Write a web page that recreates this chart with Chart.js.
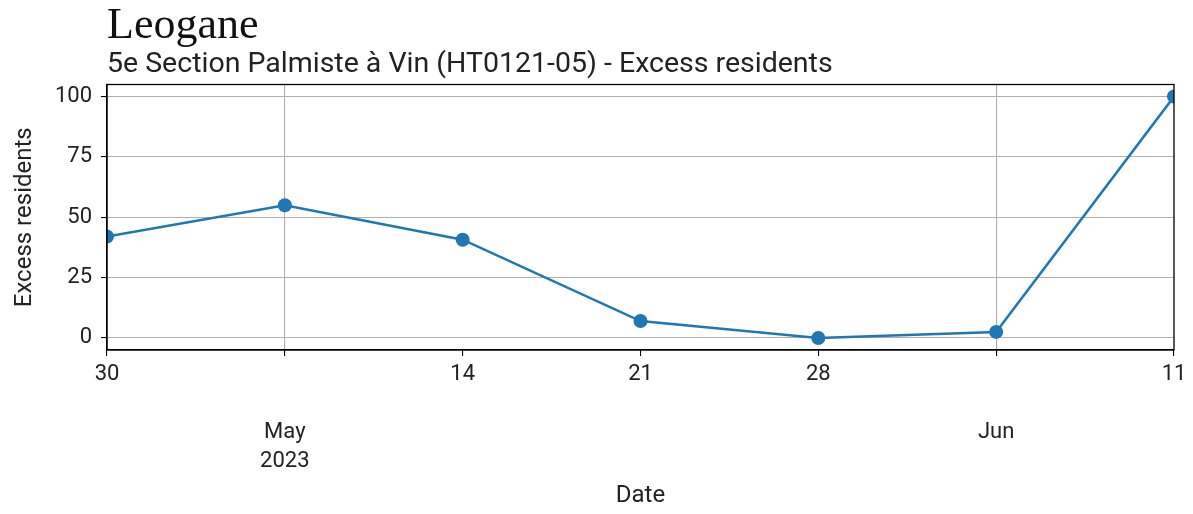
<!DOCTYPE html>
<html>
<head>
<meta charset="utf-8">
<script src="https://cdn.jsdelivr.net/npm/chart.js@4/dist/chart.umd.min.js"></script>
<style>
  html, body { margin: 0; padding: 0; background: #fff; }
  #wrap { width: 1193px; height: 514px; }
</style>
</head>
<body>
<div id="wrap"><canvas id="lineCanvas" width="1193" height="514"></canvas></div>
<script>
// dates, one per week
const dates = ["2023-04-30", "2023-05-07", "2023-05-14", "2023-05-21", "2023-05-28", "2023-06-04", "2023-06-11"];
const excessResidents = [42, 55, 40.7, 7, 0, 2.5, 100];
// tick labels under each date (blank lines push the month labels down)
const xTickLabels = [["30"], ["", "", "May", "2023"], ["14"], ["21"], ["28"], ["", "", "Jun"], ["11"]];
const majorTicks = [1, 5];
const yTicks = [0, 25, 50, 75, 100];

const gridGray = "#b0b0b0";
const textColor = "#222";

// box around the plot like matplotlib spines
const frame = {
  id: "frame",
  afterDatasetsDraw(chart) {
    const a = chart.chartArea;
    const ctx = chart.ctx;
    ctx.save();
    ctx.strokeStyle = "#000";
    ctx.lineWidth = 1.3;
    ctx.strokeRect(a.left, a.top, a.right - a.left, a.bottom - a.top);
    ctx.restore();
  }
};

const ctx = document.getElementById("lineCanvas").getContext("2d");
new Chart(ctx, {
  type: "line",
  data: {
    labels: dates,
    datasets: [{
      data: excessResidents,
      borderColor: "#1f77b4",
      backgroundColor: "#1f77b4",
      borderWidth: 2.5,
      pointRadius: 7,
      pointHoverRadius: 7,
      pointBorderWidth: 0,
      tension: 0,
      clip: 0
    }]
  },
  plugins: [frame],
  options: {
    responsive: false,
    animation: false,
    layout: { padding: { left: 0, right: 19, top: 0, bottom: 0 } },
    plugins: {
      legend: { display: false },
      tooltip: { enabled: false },
      title: {
        display: true,
        text: "Leogane",
        align: "start",
        fullSize: false,
        color: "#111",
        font: { family: "'Liberation Serif', serif", size: 44, weight: "normal", lineHeight: 1.0 },
        padding: { top: 4, bottom: 1 }
      },
      subtitle: {
        display: true,
        text: "5e Section Palmiste à Vin (HT0121-05) - Excess residents",
        align: "start",
        fullSize: false,
        color: textColor,
        font: { family: "Roboto", size: 28.5, lineHeight: 1.0 },
        padding: { top: 2, bottom: 5 }
      }
    },
    scales: {
      x: {
        type: "category",
        offset: false,
        afterFit(scale) { scale.height = 164; },
        grid: {
          color: (c) => majorTicks.includes(c.index) ? gridGray : "rgba(0,0,0,0)",
          lineWidth: 1.1,
          tickColor: "#000",
          tickLength: 6,
          drawOnChartArea: true
        },
        border: { display: true, color: "#000", width: 1.3 },
        ticks: {
          autoSkip: false,
          maxRotation: 0,
          padding: 4,
          color: textColor,
          font: { family: "Roboto", size: 22, lineHeight: 1.318 },
          callback: (v, i) => xTickLabels[i]
        },
        title: {
          display: true,
          text: "Date",
          color: textColor,
          font: { family: "Roboto", size: 24, lineHeight: 1.2 },
          padding: { top: 4, bottom: 4 }
        }
      },
      y: {
        min: -5,
        max: 105,
        afterFit(scale) { scale.width = 107; },
        afterBuildTicks(scale) { scale.ticks = yTicks.map(v => ({ value: v })); },
        grid: {
          color: gridGray,
          lineWidth: 1.1,
          tickColor: "#000",
          tickLength: 6
        },
        border: { display: true, color: "#000", width: 1.3 },
        ticks: {
          padding: 9,
          color: textColor,
          font: { family: "Roboto", size: 22 }
        },
        title: {
          display: true,
          text: "Excess residents",
          color: textColor,
          font: { family: "Roboto", size: 24, lineHeight: 1.2 },
          padding: { top: 11, bottom: 11 }
        }
      }
    }
  }
});
</script>
</body>
</html>
